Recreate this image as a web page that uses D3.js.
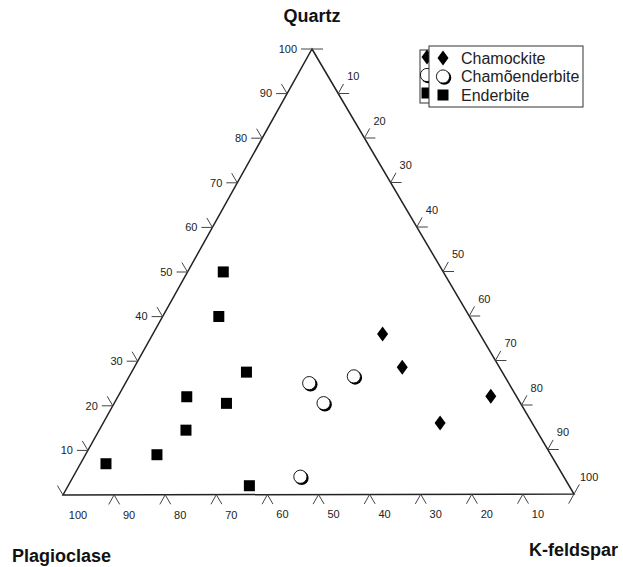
<!DOCTYPE html>
<html>
<head>
  <meta charset="utf-8">
  <title>Quartz - K-feldspar - Plagioclase</title>
  <script src="https://d3js.org/d3.v7.min.js"></script>
  <style>
    body { margin: 0; background: #fff; }
    svg { display: block; font-family: Arial, "Liberation Sans", sans-serif; }
    .edge { fill: none; stroke: #222; stroke-width: 1.5px; }
    .tick { stroke: #444; stroke-width: 1px; }
    .tlabel { font-size: 11px; fill: #222; }
    .title { font-size: 18px; font-weight: bold; fill: #111; }
  </style>
</head>
<body>
<svg width="623" height="567"></svg>
<script>
  // apex labels
  const apexNames = ['Quartz', 'K-feldspar', 'Plagioclase'];
  const tickValues = [10, 20, 30, 40, 50, 60, 70, 80, 90];

  // [quartz, k-feldspar]  (plagioclase = 100 - q - k)
  const chamockite = [[36, 45], [28.5, 52.5], [16, 66], [22, 73]];
  const chamoenderbite = [[25, 36], [26.5, 44], [20.5, 41], [4, 44.5]];
  const enderbite = [[50, 7], [40, 11], [27.5, 22.5], [22, 13.5], [20.5, 22], [14.5, 17], [9, 14], [7, 5], [2, 35.5]];

  const seriesNames = ['Chamockite', 'Chamõenderbite', 'Enderbite'];

  const svg = d3.select('svg');

  // triangle corners (pixel)
  const A = [312, 49];   // quartz
  const P = [63, 495];   // plagioclase
  const K = [574, 494];  // k-feldspar

  const frac = d3.scaleLinear().domain([0, 100]).range([0, 1]);

  function proj(q, k) {
    const fq = frac(q), fk = frac(k);
    return [P[0] + (A[0] - P[0]) * fq + (K[0] - P[0]) * fk,
            P[1] + (A[1] - P[1]) * fq + (K[1] - P[1]) * fk];
  }
  function unit(a, b) {
    const dx = b[0] - a[0], dy = b[1] - a[1], l = Math.hypot(dx, dy);
    return [dx / l, dy / l];
  }
  const TL = 11;
  const upLeft = unit(K, A), upRight = unit(P, A);
  const downLeft = unit(A, P), downRight = unit(A, K);

  const g = svg.append('g');

  g.append('path')
    .attr('class', 'edge')
    .attr('d', d3.line()([A, K, P]) + 'Z');

  function stroke(p, dir) {
    g.append('line').attr('class', 'tick')
      .attr('x1', p[0]).attr('y1', p[1])
      .attr('x2', p[0] + dir[0] * TL).attr('y2', p[1] + dir[1] * TL);
  }
  function label(p, dx, dy, txt, anchor) {
    g.append('text').attr('class', 'tlabel')
      .attr('x', p[0] + dx).attr('y', p[1] + dy)
      .attr('dy', '0.35em')
      .attr('text-anchor', anchor)
      .text(txt);
  }

  // left axis: quartz
  tickValues.forEach(v => {
    const p = proj(v, 0);
    stroke(p, [-1, 0]);
    stroke(p, upLeft);
    label(p, -15, 0, v, 'end');
  });
  // right axis: k-feldspar (0 at apex)
  tickValues.forEach(v => {
    const p = proj(100 - v, v);
    stroke(p, [1, 0]);
    stroke(p, upRight);
    label(p, 9, -17, v, 'start');
  });
  // bottom axis: plagioclase (100 at left)
  tickValues.forEach(v => {
    const p = proj(0, 100 - v);
    stroke(p, downLeft);
    stroke(p, downRight);
    label(p, 15, 20, v, 'middle');
  });

  // corners
  stroke(A, [-1, 0]); stroke(A, [1, 0]);
  label(A, -15, 0, 100, 'end');
  stroke(P, upLeft);
  label(P, 15, 20, 100, 'middle');
  stroke(K, upRight); stroke(K, downLeft);
  label(K, 6, -17, 100, 'start');

  // titles
  svg.append('text').attr('class', 'title').attr('x', A[0]).attr('y', 22)
    .attr('text-anchor', 'middle').text(apexNames[0]);
  svg.append('text').attr('class', 'title').attr('x', 618).attr('y', 556)
    .attr('text-anchor', 'end').text(apexNames[1]);
  svg.append('text').attr('class', 'title').attr('x', 12).attr('y', 562)
    .text(apexNames[2]);

  // markers
  const diamond = 'M0,-7.5L5.5,0L0,7.5L-5.5,0Z';
  function drawDiamond(sel, x, y) {
    sel.append('path').attr('d', diamond).attr('transform', `translate(${x},${y})`).attr('fill', '#000');
  }
  function drawSquare(sel, x, y) {
    sel.append('rect').attr('x', x - 5.5).attr('y', y - 5.5).attr('width', 11).attr('height', 11).attr('fill', '#000');
  }
  function drawCircle(sel, x, y) {
    sel.append('circle').attr('cx', x + 1.3).attr('cy', y + 1.3).attr('r', 7).attr('fill', '#000');
    sel.append('circle').attr('cx', x).attr('cy', y).attr('r', 6.6)
      .attr('fill', '#fff').attr('stroke', '#000').attr('stroke-width', 0.9);
  }

  const marks = svg.append('g');
  enderbite.forEach(d => { const p = proj(d[0], d[1]); drawSquare(marks, p[0], p[1]); });
  chamoenderbite.forEach(d => { const p = proj(d[0], d[1]); drawCircle(marks, p[0], p[1]); });
  chamockite.forEach(d => { const p = proj(d[0], d[1]); drawDiamond(marks, p[0], p[1]); });

  // legend (with the offset copy behind it, as in the scan)
  const drawers = [drawDiamond, drawCircle, drawSquare];
  const back = svg.append('g');
  back.append('rect').attr('x', 420).attr('y', 50).attr('width', 150).attr('height', 53)
    .attr('fill', '#fff').attr('stroke', '#333').attr('stroke-width', 1);
  seriesNames.forEach((s, i) => drawers[i](back, 427, 57 + i * 18));

  const leg = svg.append('g');
  leg.append('rect').attr('x', 429).attr('y', 46).attr('width', 154).attr('height', 61)
    .attr('fill', '#fff').attr('stroke', '#333').attr('stroke-width', 1);
  seriesNames.forEach((s, i) => {
    drawers[i](leg, 443, 58 + i * 18.5);
    leg.append('text').attr('x', 461).attr('y', 58 + i * 18.5).attr('dy', '0.35em')
      .attr('font-size', 16).attr('fill', '#222').text(s);
  });
</script>
</body>
</html>
